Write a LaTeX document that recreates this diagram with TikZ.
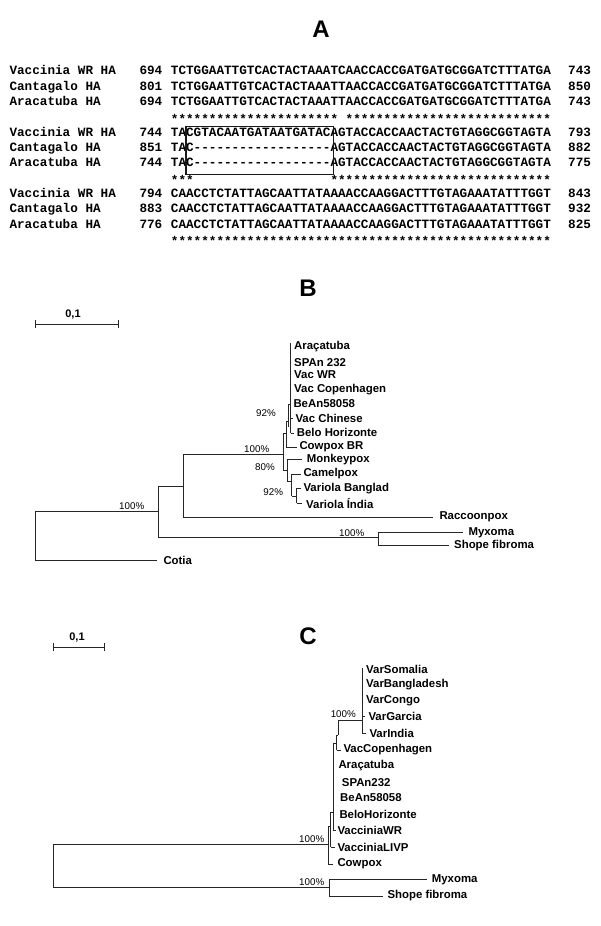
\documentclass[tikz,border=0pt]{standalone}
\usepackage{fontspec}
\setmainfont{Liberation Sans}
\setmonofont{Liberation Mono}
\begin{document}
\begin{tikzpicture}[x=1pt,y=-1pt,
  seq/.style={anchor=base west, inner sep=0, font=\ttfamily\bfseries\fontsize{12.667}{14}\selectfont},
  leaf/.style={anchor=west, inner sep=0, font=\bfseries\fontsize{11.4}{13}\selectfont},
  pct/.style={inner sep=0, font=\fontsize{9.8}{11}\selectfont},
  panel/.style={inner sep=0, font=\bfseries\fontsize{24}{28}\selectfont},
  scl/.style={inner sep=0, font=\bfseries\fontsize{11}{13}\selectfont},
  br/.style={line width=1pt, draw=black!85}]
\useasboundingbox (0,0) rectangle (600,926);

% ---------------- Panel A ----------------
\node[panel] (pA) at (321,29) {A};
% block 1
\node[seq] (n1) at (9.3,74.8) {Vaccinia WR HA};
\node[seq] (n1a) at (139.3,74.8) {694};
\node[seq] (s1) at (170.7,74.8) {TCTGGAATTGTCACTACTAAATCAACCACCGATGATGCGGATCTTTATGA};
\node[seq] (e1) at (568,74.8) {743};
\node[seq] (n2) at (9.3,90.1) {Cantagalo HA};
\node[seq] (n2a) at (139.3,90.1) {801};
\node[seq] (s2) at (170.7,90.1) {TCTGGAATTGTCACTACTAAATTAACCACCGATGATGCGGATCTTTATGA};
\node[seq] (e2) at (568,90.1) {850};
\node[seq] (n3) at (9.3,105.4) {Aracatuba HA};
\node[seq] (n3a) at (139.3,105.4) {694};
\node[seq] (s3) at (170.7,105.4) {TCTGGAATTGTCACTACTAAATTAACCACCGATGATGCGGATCTTTATGA};
\node[seq] (e3) at (568,105.4) {743};
\node[seq] (st1a) at (170.7,123) {**********************};
\node[seq] (st1b) at (345.5,123) {***************************};
% block 2
\node[seq] (n4) at (9.3,136.1) {Vaccinia WR HA};
\node[seq] (n4a) at (139.3,136.1) {744};
\node[seq] (s4) at (170.7,136.1) {TACGTACAATGATAATGATACAGTACCACCAACTACTGTAGGCGGTAGTA};
\node[seq] (e4) at (568,136.1) {793};
\node[seq] (n5) at (9.3,151.4) {Cantagalo HA};
\node[seq] (n5a) at (139.3,151.4) {851};
\node[seq] (s5) at (170.7,151.4) {TAC------------------AGTACCACCAACTACTGTAGGCGGTAGTA};
\node[seq] (e5) at (568,151.4) {882};
\node[seq] (n6) at (9.3,166.7) {Aracatuba HA};
\node[seq] (n6a) at (139.3,166.7) {744};
\node[seq] (s6) at (170.7,166.7) {TAC------------------AGTACCACCAACTACTGTAGGCGGTAGTA};
\node[seq] (e6) at (568,166.7) {775};
\node[seq] (st2a) at (170.7,184.3) {***};
\node[seq] (st2b) at (330.3,184.3) {*****************************};
\draw[line width=1.6pt, black!90] (186,126.5) rectangle (333.5,174.5);
% block 3
\node[seq] (n7) at (9.3,197.4) {Vaccinia WR HA};
\node[seq] (n7a) at (139.3,197.4) {794};
\node[seq] (s7) at (170.7,197.4) {CAACCTCTATTAGCAATTATAAAACCAAGGACTTTGTAGAAATATTTGGT};
\node[seq] (e7) at (568,197.4) {843};
\node[seq] (n8) at (9.3,212.7) {Cantagalo HA};
\node[seq] (n8a) at (139.3,212.7) {883};
\node[seq] (s8) at (170.7,212.7) {CAACCTCTATTAGCAATTATAAAACCAAGGACTTTGTAGAAATATTTGGT};
\node[seq] (e8) at (568,212.7) {932};
\node[seq] (n9) at (9.3,228.0) {Aracatuba HA};
\node[seq] (n9a) at (139.3,228.0) {776};
\node[seq] (s9) at (170.7,228.0) {CAACCTCTATTAGCAATTATAAAACCAAGGACTTTGTAGAAATATTTGGT};
\node[seq] (e9) at (568,228.0) {825};
\node[seq] (st3) at (170.7,245.6) {**************************************************};

% ---------------- Panel B ----------------
\node[panel] (pB) at (308,288.5) {B};
\coordinate (bsL) at (35,324.3); \coordinate (bsR) at (118.3,324.3);
\draw[br] (bsL) -- (bsR);
\draw[br] ([yshift=-4pt]bsL) -- ([yshift=4pt]bsL);
\draw[br] ([yshift=-4pt]bsR) -- ([yshift=4pt]bsR);
\node[scl] (bsl) at (73,315) {0,1};

% leaves
\node[leaf] (bAra) at (294,346.7) {Araçatuba};
\node[leaf] (bSPA) at (294,362.3) {SPAn 232};
\node[leaf] (bVWR) at (294,375) {Vac WR};
\node[leaf] (bVCo) at (294,390) {Vac Copenhagen};
\node[leaf] (bBeA) at (293.3,404) {BeAn58058};
\node[leaf] (bVCh) at (295.3,418.3) {Vac Chinese};
\node[leaf] (bBel) at (296.7,432.7) {Belo Horizonte};
\node[leaf] (bCow) at (299.3,446.7) {Cowpox BR};
\node[leaf] (bMon) at (306.7,459.3) {Monkeypox};
\node[leaf] (bCam) at (303.3,474) {Camelpox};
\node[leaf] (bVBa) at (303.3,488.3) {Variola Banglad};
\node[leaf] (bVIn) at (306,503.3) {Variola Índia};
\node[leaf] (bRac) at (439.3,516.7) {Raccoonpox};
\node[leaf] (bMyx) at (468.3,532.3) {Myxoma};
\node[leaf] (bSho) at (454,545.7) {Shope fibroma};
\node[leaf] (bCot) at (163.3,560) {Cotia};

% internal points
\coordinate (bR1) at (35,511.7);   \coordinate (bR2) at (35,560);
\coordinate (bQ1a) at (158.3,486.7); \coordinate (bQ1b) at (158.3,537.7); \coordinate (bQ1m) at (158.3,511.7);
\coordinate (bQ2a) at (183.3,454); \coordinate (bQ2b) at (183.3,517.3); \coordinate (bQ2t) at (183.3,486.7);
\coordinate (bMSa) at (378.3,532.3); \coordinate (bMSb) at (378.3,545.7); \coordinate (bMSm) at (378.3,537.7);
\coordinate (bPa) at (283.3,433.5); \coordinate (bPb) at (283.3,470); \coordinate (bPm) at (283.3,454);
\coordinate (bCa) at (286,421); \coordinate (bCb) at (286,447); \coordinate (bCm) at (286,433.5);
\coordinate (b92a) at (288.5,404); \coordinate (b92b) at (288.5,427); \coordinate (b92m) at (288.5,421);
\coordinate (bVa) at (290.5,343); \coordinate (bVb) at (290.5,433); \coordinate (bVm) at (290.5,404);
\coordinate (bMa) at (287.3,459.3); \coordinate (bMb) at (287.3,481); \coordinate (bMm) at (287.3,470);
\coordinate (bCVa) at (291.7,474); \coordinate (bCVb) at (291.7,496); \coordinate (bCVm) at (291.7,481);
\coordinate (bVVa) at (296.7,488.3); \coordinate (bVVb) at (296.7,503.3); \coordinate (bVVm) at (296.7,496);

\draw[br] (bR1) -- (bR2);
\draw[br] (bR1) -- (bQ1m);
\draw[br] (bR2) -- (156.7,560);
\draw[br] (bQ1a) -- (bQ1b);
\draw[br] (bQ1a) -- (bQ2t);
\draw[br] (bQ1b) -- (bMSm);
\draw[br] (bMSa) -- (bMSb);
\draw[br] (bMSa) -- (463.3,532.3);
\draw[br] (bMSb) -- (449.3,545.7);
\draw[br] (bQ2a) -- (bQ2b);
\draw[br] (bQ2b) -- (432.7,517.3);
\draw[br] (bQ2a) -- (bPm);
\draw[br] (bPa) -- (bPb);
\draw[br] (bPa) -- (bCm);
\draw[br] (bCa) -- (bCb);
\draw[br] (bCb) -- (297,447);
\draw[br] (bCa) -- (b92m);
\draw[br] (b92a) -- (b92b);
\draw[br] (b92a) -- (bVm);
\draw[br] (bVa) -- (bVb);
\draw[br] (bVb) -- (294,433);
\draw[br] (290.5,418.3) -- (293,418.3);
\draw[br] (bPb) -- (bMm);
\draw[br] (bMa) -- (bMb);
\draw[br] (bMa) -- (302,459.3);
\draw[br] (bMb) -- (bCVm);
\draw[br] (bCVa) -- (bCVb);
\draw[br] (bCVa) -- (301,474);
\draw[br] (bCVb) -- (bVVm);
\draw[br] (bVVa) -- (bVVb);
\draw[br] (bVVa) -- (301,488.3);
\draw[br] (bVVb) -- (302,503.3);

\node[pct] (bp1) at (131.7,506.5) {100\%};
\node[pct] (bp2) at (351.7,533) {100\%};
\node[pct] (bp3) at (256.7,449) {100\%};
\node[pct] (bp4) at (266,413.3) {92\%};
\node[pct] (bp5) at (265,467) {80\%};
\node[pct] (bp6) at (273.3,491.7) {92\%};

% ---------------- Panel C ----------------
\node[panel] (pC) at (308,636) {C};
\coordinate (csL) at (53.3,647.3); \coordinate (csR) at (104,647.3);
\draw[br] (csL) -- (csR);
\draw[br] ([yshift=-4pt]csL) -- ([yshift=4pt]csL);
\draw[br] ([yshift=-4pt]csR) -- ([yshift=4pt]csR);
\node[scl] (csl) at (77,638) {0,1};

\node[leaf] (cVSo) at (366,669.3) {VarSomalia};
\node[leaf] (cVBa) at (366,685) {VarBangladesh};
\node[leaf] (cVCo) at (366,701) {VarCongo};
\node[leaf] (cVGa) at (368.3,716.7) {VarGarcia};
\node[leaf] (cVIn) at (369.3,733.3) {VarIndia};
\node[leaf] (cVac) at (343.3,750) {VacCopenhagen};
\node[leaf] (cAra) at (338.3,766) {Araçatuba};
\node[leaf] (cSPA) at (341.7,782.7) {SPAn232};
\node[leaf] (cBeA) at (340,797.5) {BeAn58058};
\node[leaf] (cBel) at (339.3,814) {BeloHorizonte};
\node[leaf] (cVWR) at (337.3,830.7) {VacciniaWR};
\node[leaf] (cVLI) at (337.3,847.3) {VacciniaLIVP};
\node[leaf] (cCow) at (337.3,864) {Cowpox};
\node[leaf] (cMyx) at (431.7,879.3) {Myxoma};
\node[leaf] (cSho) at (387.3,896) {Shope fibroma};

\coordinate (cR1) at (53.3,844); \coordinate (cR2) at (53.3,887.3);
\coordinate (cMSa) at (329.3,879.3); \coordinate (cMSb) at (329.3,896); \coordinate (cMSm) at (329.3,887.3);
\coordinate (cN1a) at (328.3,826); \coordinate (cN1b) at (328.3,864); \coordinate (cN1m) at (328.3,844);
\coordinate (cN2a) at (330.5,812); \coordinate (cN2b) at (330.5,847.3); \coordinate (cN2m) at (330.5,826);
\coordinate (cN3a) at (333.5,743); \coordinate (cN3b) at (333.5,830.7); \coordinate (cN3m) at (333.5,812);
\coordinate (cN4a) at (336.5,735); \coordinate (cN4b) at (336.5,750); \coordinate (cN4m) at (336.5,743);
\coordinate (cN5a) at (338.3,720); \coordinate (cN5b) at (338.3,735);
\coordinate (cVa) at (362.3,668.3); \coordinate (cVb) at (362.3,733.3); \coordinate (cVm) at (362.3,720);

\draw[br] (cR1) -- (cR2);
\draw[br] (cR1) -- (cN1m);
\draw[br] (cR2) -- (cMSm);
\draw[br] (cMSa) -- (cMSb);
\draw[br] (cMSa) -- (426.7,879.3);
\draw[br] (cMSb) -- (382.7,896);
\draw[br] (cN1a) -- (cN1b);
\draw[br] (cN1b) -- (333.3,864);
\draw[br] (cN1a) -- (cN2m);
\draw[br] (cN2a) -- (cN2b);
\draw[br] (cN2b) -- (334.5,847.3);
\draw[br] (cN2a) -- (cN3m);
\draw[br] (cN3a) -- (cN3b);
\draw[br] (cN3b) -- (335.5,830.7);
\draw[br] (cN3a) -- (cN4m);
\draw[br] (cN4a) -- (cN4b);
\draw[br] (cN4b) -- (340.5,750);
\draw[br] (cN4a) -- (cN5b);
\draw[br] (cN5a) -- (cN5b);
\draw[br] (cN5a) -- (cVm);
\draw[br] (cVa) -- (cVb);
\draw[br] (cVb) -- (366,733.3);
\draw[br] (362.3,716.7) -- (365,716.7);

\node[pct] (cp1) at (343.3,714.5) {100\%};
\node[pct] (cp2) at (311.7,839.5) {100\%};
\node[pct] (cp3) at (311.7,882.5) {100\%};
\end{tikzpicture}
\end{document}
